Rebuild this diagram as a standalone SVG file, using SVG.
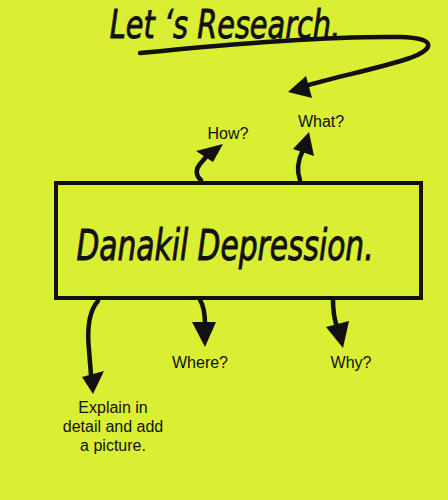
<svg xmlns="http://www.w3.org/2000/svg" width="448" height="500" viewBox="0 0 448 500">
<style>
.bg{fill:#daee34}
.ln{fill:none;stroke:#111;stroke-width:4.5;stroke-linecap:round}
.hd{fill:#111}
.lb{font-family:"Liberation Sans",Arial,sans-serif;font-size:16px;fill:#111;text-anchor:middle}
.hw{font-family:"DejaVu Sans Condensed","DejaVu Sans",sans-serif;font-style:italic;fill:#111;stroke:#111;stroke-width:0.7}
</style>
<rect class="bg" x="0" y="0" width="448" height="500"/>
<g id="title">
<text class="hw" transform="translate(225,38) scale(1,1.2)" x="0" y="0" font-size="32" text-anchor="middle">Let ‘s Research.</text>
</g>
<g id="main">
<rect x="56" y="183" width="365" height="115" fill="none" stroke="#111" stroke-width="4"/>
<text class="hw" transform="translate(225,260) scale(1,1.3)" x="0" y="0" font-size="33" text-anchor="middle">Danakil Depression.</text>
</g>
<g id="how"><text class="lb" x="228" y="139">How?</text></g>
<g id="what"><text class="lb" x="321" y="127">What?</text></g>
<g id="where"><text class="lb" x="200" y="368">Where?</text></g>
<g id="why"><text class="lb" x="351" y="368">Why?</text></g>
<g id="explain">
<text class="lb" x="113" y="413">Explain in</text>
<text class="lb" x="113" y="432">detail and add</text>
<text class="lb" x="113" y="451">a picture.</text>
</g>
<g id="connectors">
<path class="ln" stroke-width="3.5" d="M140,53 C230,44 330,36 400,37 C440,38 432,50 410,58 C380,68 340,76 305,86"/>
<polygon class="hd" points="288,92 306,76 312,98"/>
<path class="ln" d="M201,180 C196,176 195,170 200,164 L206,157"/>
<polygon class="hd" points="223,144 196,151 213,162"/>
<path class="ln" d="M300,180 C297,172 297,162 303,150"/>
<polygon class="hd" points="309,132 293,149 314,156"/>
<path class="ln" d="M98,301 C88,312 87,330 89,350 L91,375"/>
<polygon class="hd" points="93,394 82,377 104,371"/>
<path class="ln" d="M200,300 C204,306 205,314 205,325"/>
<polygon class="hd" points="205,347 192,322 216,322"/>
<path class="ln" d="M333,300 C333,310 334,318 337,327"/>
<polygon class="hd" points="343,348 326,327 349,321"/>
</g>
</svg>
